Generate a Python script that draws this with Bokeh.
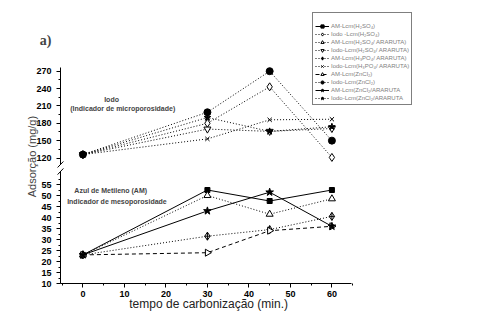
from math import pi
from bokeh.plotting import figure
from bokeh.models import (Range1d, FixedTicker, Label, Legend, LegendItem,
                          LinearAxis)
from bokeh.embed import file_html
from bokeh.resources import INLINE

# ---------------- data ----------------
minutes = [0, 30, 45, 60]

am_h2so4 = [23, 52.5, 47.5, 52.5]
am_h2so4_ar = [23, 50, 41.5, 48.5]
am_h3po4_ar = [23, 31.5, 34.5, 40.5]
am_zncl2 = [23, 24, 34, 36]
am_zncl2_ar = [23, 43, 51.5, 36]

iodo_h2so4 = [126, 180, 243, 121]
iodo_h2so4_ar = [126, 170, 166, 171]
iodo_h3po4_ar = [126, 153, 186, 187]
iodo_zncl2 = [126, 199, 270, 150]
iodo_zncl2_ar = [126, 190, 166, 174]

labels = [
    "AM-Lcm(H₂SO₄)",
    "Iodo -Lcm(H₂SO₄)",
    "AM-Lcm(H₂SO₄/ ARARUTA)",
    "Iodo-Lcm(H₂SO₄/ ARARUTA)",
    "AM-Lcm(H₃PO₄/ ARARUTA)",
    "Iodo-Lcm(H₃PO₄/ ARARUTA)",
    "AM-Lcm(ZnCl₂)",
    "Iodo-Lcm(ZnCl₂)",
    "AM-Lcm(ZnCl₂/ARARUTA",
    "Iodo-Lcm(ZnCl₂/ARARUTA",
]
values = [am_h2so4, iodo_h2so4, am_h2so4_ar, iodo_h2so4_ar, am_h3po4_ar,
          iodo_h3po4_ar, am_zncl2, iodo_zncl2, am_zncl2_ar, iodo_zncl2_ar]
is_iodo = [False, True] * 5

x_ticks = [0, 10, 20, 30, 40, 50, 60]
x_minor = [-5, 5, 15, 25, 35, 45, 55, 65]
upper_ticks = [120, 150, 180, 210, 240, 270]
upper_minor = [135, 165, 195, 225, 255]
lower_ticks = [10, 15, 20, 25, 30, 35, 40, 45, 50, 55]
lower_minor = [12.5, 17.5, 22.5, 27.5, 32.5, 37.5, 42.5, 47.5, 52.5, 57.5]

# styles: (marker, filled, dash, size, angle)
styles = [
    ("square", True, "solid", 5, 0),
    ("diamond", False, "1 2", 8, 0),
    ("triangle", False, "1 2", 7, 0),
    ("inverted_triangle", False, "1 2", 7, 0),
    ("diamond_cross", False, "1 2", 8, 0),
    ("x", False, "1 2", 6, 0),
    ("triangle", False, "4 3", 7, -pi / 2),
    ("circle", True, "1 2", 7, 0),
    ("star", True, "solid", 8, 0),
    ("star", True, "1 2", 7, 0),
]

# ---------------- layout geometry (pixel mapping of the original) ----------
W, H = 504, 322
X_LEFT_PX, PX_PER_MIN, X_AXIS_MIN = 60, 4.15, -5.4
LOW_BASE_PX, LOW_PX_PER = 283, 2.2          # value 10 at pixel 283
UP_REF_PX, UP_REF_VAL, UP_PX_PER = 70.7, 270, 0.5787

x0 = X_AXIS_MIN - X_LEFT_PX / PX_PER_MIN
x1 = X_AXIS_MIN + (W - X_LEFT_PX) / PX_PER_MIN
yl0 = 10 - (H - LOW_BASE_PX) / LOW_PX_PER
yl1 = 10 + LOW_BASE_PX / LOW_PX_PER
yu0 = UP_REF_VAL - (H - UP_REF_PX) / UP_PX_PER
yu1 = UP_REF_VAL + UP_REF_PX / UP_PX_PER

p = figure(width=W, height=H, x_range=Range1d(x0, x1),
           y_range=Range1d(yl0, yl1), x_axis_location=None,
           y_axis_location=None, output_backend="svg",
           toolbar_location=None, min_border=0)
p.extra_y_ranges = {"iodo": Range1d(yu0, yu1)}
p.grid.visible = False
p.outline_line_color = None


def style_axis(ax):
    ax.major_label_text_font = "Liberation Sans"
    ax.major_label_text_font_style = "bold"
    ax.major_label_text_font_size = "9px"
    ax.major_label_text_color = "black"
    ax.major_tick_out = 4
    ax.major_tick_in = 0
    ax.minor_tick_out = 2
    ax.minor_tick_in = 0
    ax.axis_line_color = "black"
    ax.major_tick_line_color = "black"
    ax.minor_tick_line_color = "black"


ya_low = LinearAxis(fixed_location=X_AXIS_MIN, bounds=(10, 61),
                    ticker=FixedTicker(ticks=lower_ticks, minor_ticks=lower_minor))
style_axis(ya_low)
ya_low.major_label_standoff = 5
p.add_layout(ya_low, "left")

ya_up = LinearAxis(y_range_name="iodo", fixed_location=X_AXIS_MIN,
                   bounds=(108.6, 276.4),
                   ticker=FixedTicker(ticks=upper_ticks, minor_ticks=upper_minor))
style_axis(ya_up)
ya_up.major_label_standoff = 5
p.add_layout(ya_up, "left")

xa = LinearAxis(fixed_location=10, bounds=(X_AXIS_MIN, 64.7),
                ticker=FixedTicker(ticks=x_ticks, minor_ticks=x_minor))
style_axis(xa)
xa.major_label_standoff = 3
p.add_layout(xa, "below")

# axis break marks
p.segment(x0=[-6.1], y0=[103.6], x1=[-4.7], y1=[114.0], y_range_name="iodo",
          line_color="black", line_width=1)
p.segment(x0=[-6.1], y0=[59.5], x1=[-4.7], y1=[62.3],
          line_color="black", line_width=1)

items = []
for i in range(10):
    marker, filled, dash, size, angle = styles[i]
    rn = "iodo" if is_iodo[i] else "default"
    ln = p.line(minutes, values[i], line_color="black", line_width=1,
                line_dash=dash, y_range_name=rn)
    sc = p.scatter(minutes, values[i], marker=marker, size=size,
                   line_color="black",
                   fill_color="black" if filled else "white",
                   line_width=1, angle=angle, y_range_name=rn)
    items.append(LegendItem(label=labels[i], renderers=[ln, sc]))

legend = Legend(items=items, location=(312, 217))
legend.label_text_font = "Liberation Sans"
legend.label_text_font_size = "6px"
legend.label_text_color = "#808080"
legend.label_height = 8
legend.glyph_height = 8
legend.glyph_width = 14
legend.label_standoff = 2
legend.spacing = 0
legend.padding = 2
legend.margin = 0
legend.border_line_color = "black"
legend.border_line_width = 1
legend.title = " "
legend.title_text_font_size = "7px"
legend.title_standoff = 0
p.add_layout(legend)

txt = dict(text_font="Liberation Sans", text_font_style="bold",
           text_font_size="7px", text_align="center", text_baseline="middle")
p.add_layout(Label(x=6.9, y=221, y_range_name="iodo", text="Iodo", **txt))
p.add_layout(Label(x=9.6, y=205.5, y_range_name="iodo",
                   text="(Indicador de microporosidade)", **txt))
p.add_layout(Label(x=6.7, y=52.4, text="Azul de Metileno (AM)", **txt))
p.add_layout(Label(x=8.2, y=47.4, text="Indicador de mesoporosidade", **txt))

p.add_layout(Label(x=-9.0, y=120.4, text="a)", text_font="Liberation Serif",
                   text_font_style="bold", text_font_size="14px",
                   text_align="center", text_baseline="middle"))
p.add_layout(Label(x=30.3, y=0.9, text="tempo de carbonização (min.)",
                   text_font="Liberation Sans", text_font_size="12px",
                   text_color="#222222", text_align="center",
                   text_baseline="middle"))
p.add_layout(Label(x=-12.15, y=67.7, text="Adsorção (mg/g)", angle=pi / 2,
                   text_font="Liberation Sans", text_font_size="11px",
                   text_color="#444444", text_align="center",
                   text_baseline="middle"))

with open("out.html", "w") as f:
    f.write(file_html(p, INLINE))
